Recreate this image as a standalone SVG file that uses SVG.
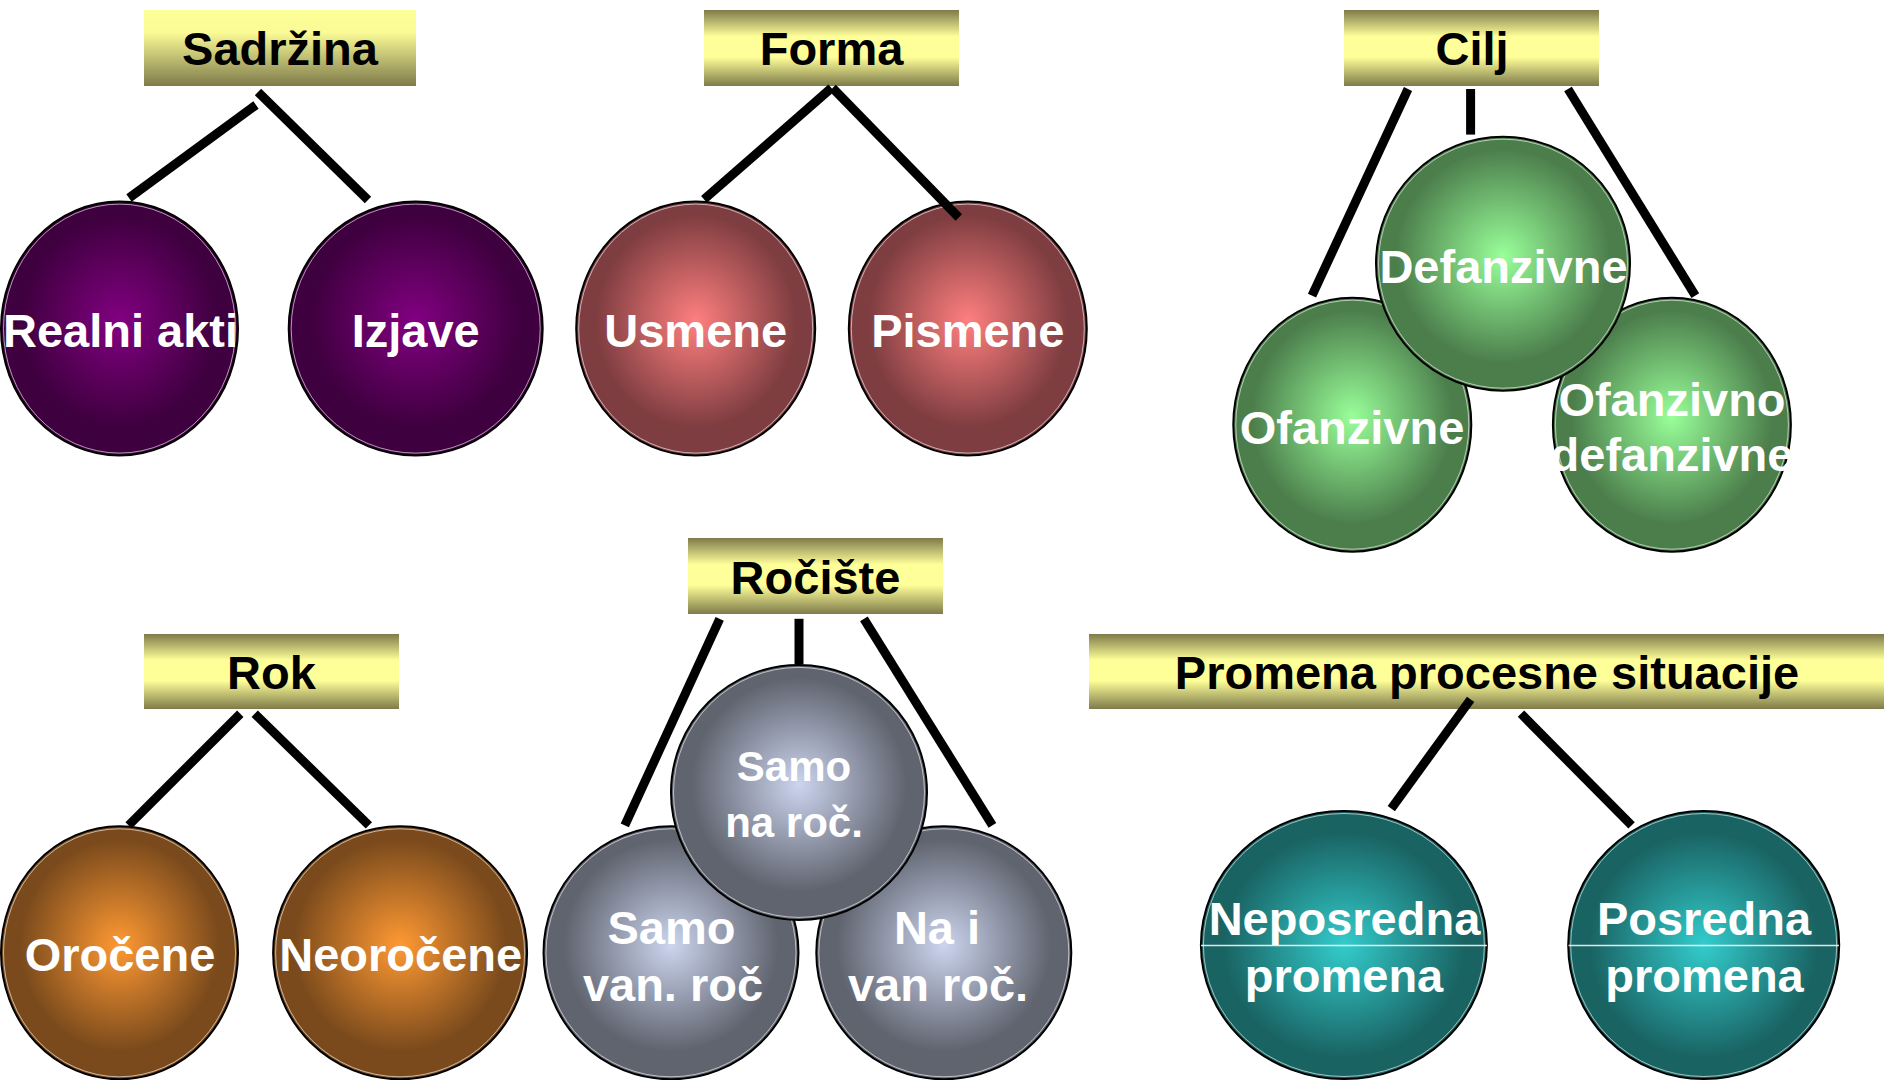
<svg xmlns="http://www.w3.org/2000/svg" width="1884" height="1080" viewBox="0 0 1884 1080">
<style>
.h{font-family:"Liberation Sans",Arial,sans-serif;font-weight:bold;font-size:47px;fill:#000;text-anchor:middle}
.t{font-family:"Liberation Sans",Arial,sans-serif;font-weight:bold;font-size:47px;fill:#fff;text-anchor:middle}
.ts{font-size:42px}
.c{stroke:#000;stroke-width:2}
.hl{fill:none;stroke:#fff;stroke-width:1;stroke-opacity:0.6}
.con line{stroke:#000;stroke-width:9;stroke-linecap:butt}
.sep{stroke:#fff;stroke-width:1.5;stroke-opacity:0.85}
</style>
<defs>
<linearGradient id="gBox" x1="0" y1="0" x2="0" y2="1">
<stop offset="0" stop-color="#7E7B4A"/><stop offset="0.35" stop-color="#FFFF99"/><stop offset="0.62" stop-color="#FFFF99"/><stop offset="1" stop-color="#7E7B4A"/>
</linearGradient>
<linearGradient id="gBoxTop" x1="0" y1="0" x2="0" y2="1">
<stop offset="0" stop-color="#FFFF99"/><stop offset="0.3" stop-color="#FAFA96"/><stop offset="1" stop-color="#7E7B4A"/>
</linearGradient>
<radialGradient id="gPurple" cx="0.5" cy="0.47" r="0.42"><stop offset="0" stop-color="#820082"/><stop offset="1" stop-color="#3E003E"/></radialGradient>
<radialGradient id="gRed" cx="0.5" cy="0.47" r="0.42"><stop offset="0" stop-color="#FF7F7F"/><stop offset="1" stop-color="#7E3D40"/></radialGradient>
<radialGradient id="gGreen" cx="0.5" cy="0.47" r="0.42"><stop offset="0" stop-color="#99FF99"/><stop offset="1" stop-color="#4C7E4C"/></radialGradient>
<radialGradient id="gOrange" cx="0.5" cy="0.47" r="0.42"><stop offset="0" stop-color="#FF9933"/><stop offset="1" stop-color="#7A4A1C"/></radialGradient>
<radialGradient id="gGray" cx="0.5" cy="0.47" r="0.42"><stop offset="0" stop-color="#CCD5EF"/><stop offset="1" stop-color="#60646F"/></radialGradient>
<radialGradient id="gTeal" cx="0.5" cy="0.5" r="0.42"><stop offset="0" stop-color="#33CCCC"/><stop offset="1" stop-color="#1A6363"/></radialGradient>
</defs>

<g id="sadrzina">
<rect x="144" y="10" width="272" height="76" fill="url(#gBoxTop)"/>
<text class="h" x="280" y="65">Sadržina</text>
</g>
<g id="forma">
<rect x="704" y="10" width="255" height="76" fill="url(#gBox)"/>
<text class="h" x="831.5" y="65">Forma</text>
</g>
<g id="cilj">
<rect x="1344" y="10" width="255" height="76" fill="url(#gBox)"/>
<text class="h" x="1472" y="65">Cilj</text>
</g>
<g id="rok">
<rect x="144" y="634" width="255" height="75" fill="url(#gBox)"/>
<text class="h" x="271.5" y="689">Rok</text>
</g>
<g id="rociste">
<rect x="688" y="538" width="255" height="76" fill="url(#gBox)"/>
<text class="h" x="815.5" y="594">Ročište</text>
</g>
<g id="promena">
<rect x="1089" y="634" width="795" height="75" fill="url(#gBox)"/>
<text class="h" x="1487" y="689">Promena procesne situacije</text>
</g>

<g id="realni-akti">
<ellipse class="c" cx="119.5" cy="328.6" rx="118.5" ry="127" fill="url(#gPurple)"/>
<ellipse class="hl" cx="119.5" cy="328.6" rx="116" ry="124.5"/>
<text class="t" x="120.5" y="347">Realni akti</text>
</g>
<g id="izjave">
<ellipse class="c" cx="415.7" cy="328.6" rx="127" ry="127" fill="url(#gPurple)"/>
<ellipse class="hl" cx="415.7" cy="328.6" rx="124.5" ry="124.5"/>
<text class="t" x="415.7" y="347">Izjave</text>
</g>
<g id="usmene">
<ellipse class="c" cx="695.7" cy="328.6" rx="119.5" ry="127" fill="url(#gRed)"/>
<ellipse class="hl" cx="695.7" cy="328.6" rx="117" ry="124.5"/>
<text class="t" x="695.7" y="347">Usmene</text>
</g>
<g id="pismene">
<ellipse class="c" cx="967.8" cy="328.6" rx="119" ry="127" fill="url(#gRed)"/>
<ellipse class="hl" cx="967.8" cy="328.6" rx="116.5" ry="124.5"/>
<text class="t" x="967.8" y="347">Pismene</text>
</g>

<g id="ofanzivne">
<ellipse class="c" cx="1352.3" cy="424.7" rx="119" ry="127" fill="url(#gGreen)"/>
<ellipse class="hl" cx="1352.3" cy="424.7" rx="116.5" ry="124.5"/>
<text class="t" x="1352" y="444">Ofanzivne</text>
</g>
<g id="ofanzivno-defanzivne">
<ellipse class="c" cx="1671.9" cy="424.7" rx="119" ry="127" fill="url(#gGreen)"/>
<ellipse class="hl" cx="1671.9" cy="424.7" rx="116.5" ry="124.5"/>
<text class="t" x="1672" y="416">Ofanzivno</text>
<text class="t" x="1672" y="471">defanzivne</text>
</g>
<g id="defanzivne">
<ellipse class="c" cx="1503" cy="263.7" rx="127" ry="127" fill="url(#gGreen)"/>
<ellipse class="hl" cx="1503" cy="263.7" rx="124.5" ry="124.5"/>
<text class="t" x="1503.5" y="283">Defanzivne</text>
</g>

<g id="orocene">
<ellipse class="c" cx="119.5" cy="952.8" rx="118.5" ry="126.5" fill="url(#gOrange)"/>
<ellipse class="hl" cx="119.5" cy="952.8" rx="116" ry="124"/>
<text class="t" x="120" y="971">Oročene</text>
</g>
<g id="neorocene">
<ellipse class="c" cx="400.1" cy="952.8" rx="127" ry="126.5" fill="url(#gOrange)"/>
<ellipse class="hl" cx="400.1" cy="952.8" rx="124.5" ry="124"/>
<text class="t" x="400.7" y="971">Neoročene</text>
</g>

<g id="samo-van-roc">
<ellipse class="c" cx="671" cy="952.8" rx="127.5" ry="126.5" fill="url(#gGray)"/>
<ellipse class="hl" cx="671" cy="952.8" rx="125" ry="124"/>
<text class="t" x="671.5" y="944">Samo</text>
<text class="t" x="673" y="1001">van. roč</text>
</g>
<g id="na-i-van-roc">
<ellipse class="c" cx="943.8" cy="952.8" rx="127.5" ry="126.5" fill="url(#gGray)"/>
<ellipse class="hl" cx="943.8" cy="952.8" rx="125" ry="124"/>
<text class="t" x="937" y="944">Na i</text>
<text class="t" x="938" y="1001">van roč.</text>
</g>
<g id="samo-na-roc">
<ellipse class="c" cx="799" cy="792.4" rx="128" ry="127.5" fill="url(#gGray)"/>
<ellipse class="hl" cx="799" cy="792.4" rx="125.5" ry="125"/>
<text class="t ts" x="794" y="781">Samo</text>
<text class="t ts" x="794" y="837">na roč.</text>
</g>

<g id="neposredna-promena">
<ellipse class="c" cx="1343.9" cy="945" rx="143" ry="134" fill="url(#gTeal)"/>
<ellipse class="hl" cx="1343.9" cy="945" rx="140.5" ry="131.5"/>
<line class="sep" x1="1201" y1="945.6" x2="1487" y2="945.6"/>
<text class="t" x="1344.5" y="935">Neposredna</text>
<text class="t" x="1344" y="992">promena</text>
</g>
<g id="posredna-promena">
<ellipse class="c" cx="1703.7" cy="945" rx="135.5" ry="134" fill="url(#gTeal)"/>
<ellipse class="hl" cx="1703.7" cy="945" rx="133" ry="131.5"/>
<line class="sep" x1="1568.5" y1="945.6" x2="1839" y2="945.6"/>
<text class="t" x="1704" y="935">Posredna</text>
<text class="t" x="1704.5" y="992">promena</text>
</g>

<g id="connectors" class="con">
<line x1="256" y1="105" x2="129" y2="198"/>
<line x1="258" y1="92" x2="368" y2="200"/>
<line x1="831.4" y1="88" x2="704" y2="199.4"/>
<line x1="832.6" y1="88" x2="958.8" y2="217.5"/>
<line x1="1408" y1="89" x2="1312" y2="295.6"/>
<line x1="1470.6" y1="89" x2="1470.6" y2="134.6"/>
<line x1="1568" y1="89" x2="1695.3" y2="295.6"/>
<line x1="240.3" y1="713.7" x2="128.6" y2="825.4"/>
<line x1="254.7" y1="713.7" x2="368.9" y2="825.4"/>
<line x1="719.7" y1="618.8" x2="624.8" y2="825.4"/>
<line x1="799" y1="618.8" x2="799" y2="664.4"/>
<line x1="863.9" y1="618.8" x2="992.4" y2="825.4"/>
<line x1="1470.6" y1="699.3" x2="1391.3" y2="808.6"/>
<line x1="1521" y1="713.7" x2="1631.6" y2="825.4"/>
</g>
</svg>
